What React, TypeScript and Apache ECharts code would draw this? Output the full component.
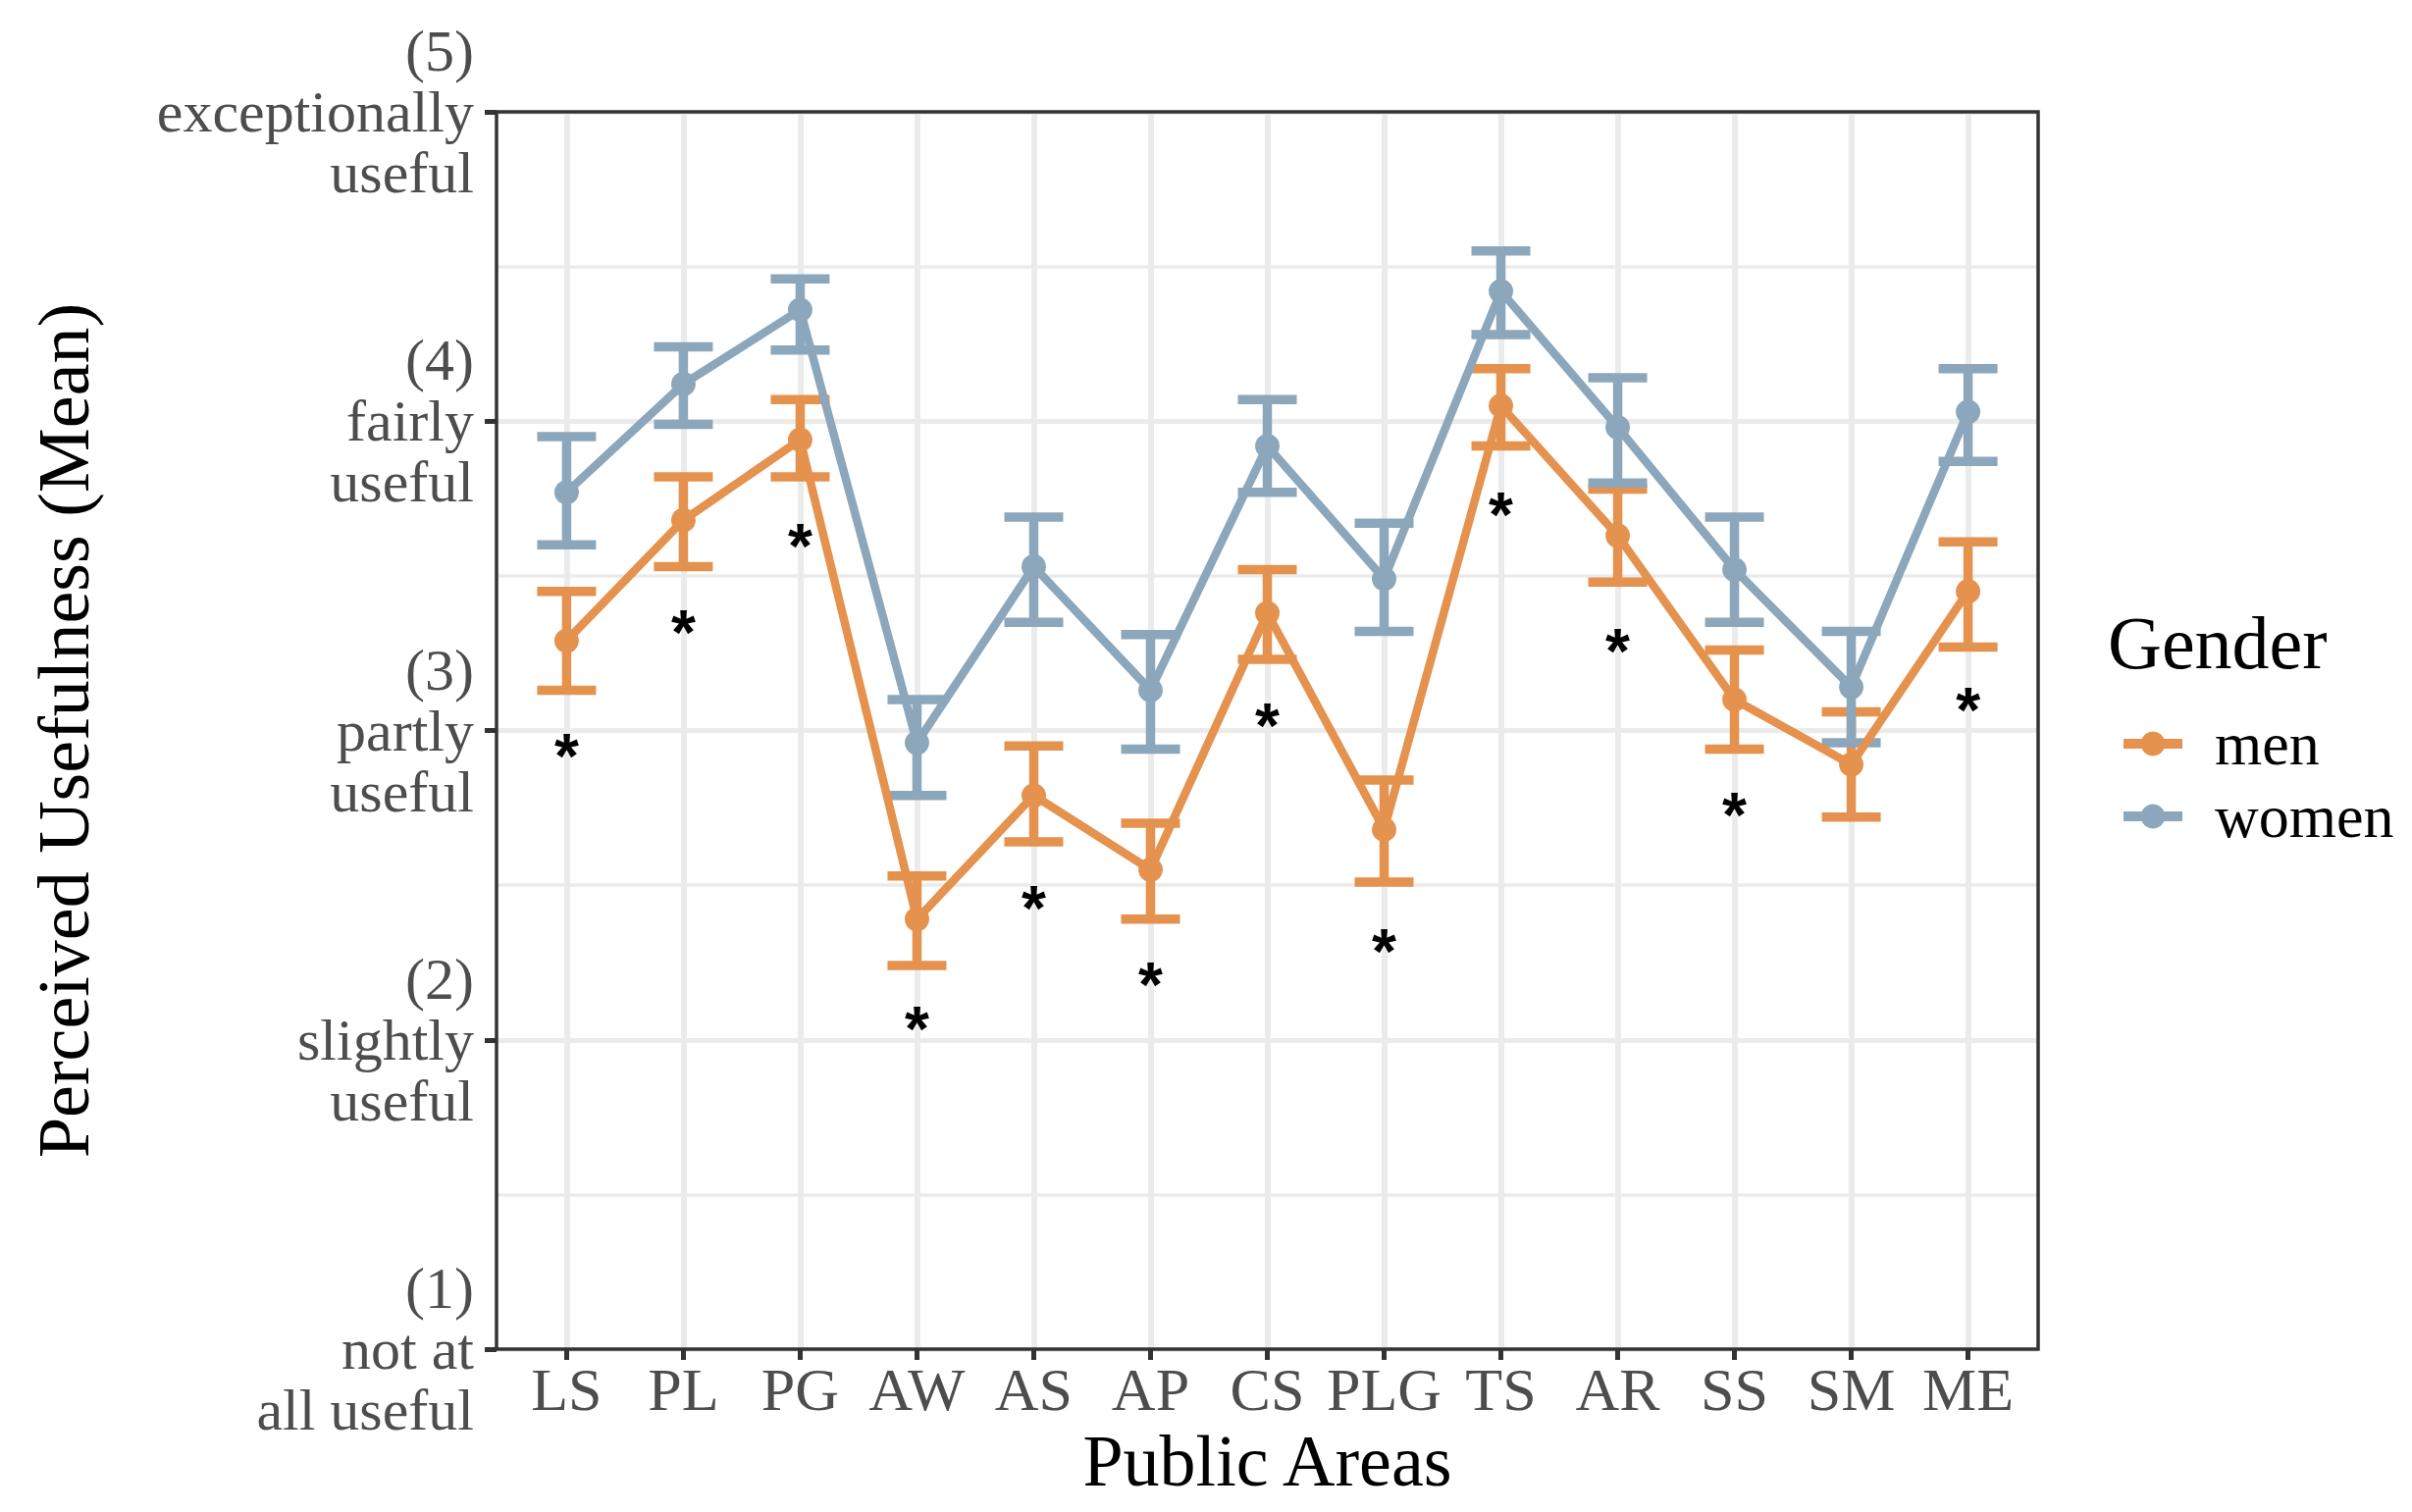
import React, { useEffect, useRef } from "react";
import * as echarts from "echarts";

const categories = ["LS", "PL", "PG", "AW", "AS", "AP", "CS", "PLG", "TS", "AR", "SS", "SM", "ME"];
const menMean = [3.29, 3.68, 3.94, 2.39, 2.79, 2.55, 3.38, 2.68, 4.05, 3.63, 3.10, 2.89, 3.45];
const menLow = [3.13, 3.53, 3.82, 2.24, 2.64, 2.39, 3.23, 2.51, 3.92, 3.48, 2.94, 2.72, 3.27];
const menHigh = [3.45, 3.82, 4.07, 2.53, 2.95, 2.70, 3.52, 2.84, 4.17, 3.78, 3.26, 3.06, 3.61];
const womenMean = [3.77, 4.12, 4.36, 2.96, 3.53, 3.13, 3.92, 3.49, 4.42, 3.98, 3.52, 3.14, 4.03];
const womenLow = [3.60, 3.99, 4.23, 2.79, 3.35, 2.94, 3.77, 3.32, 4.28, 3.80, 3.35, 2.96, 3.87];
const womenHigh = [3.95, 4.24, 4.46, 3.10, 3.69, 3.31, 4.07, 3.67, 4.55, 4.14, 3.69, 3.32, 4.17];
const sigCategories = ["LS", "PL", "PG", "AW", "AS", "AP", "CS", "PLG", "TS", "AR", "SS", "ME"];
const sigY = [2.96, 3.36, 3.64, 2.08, 2.47, 2.22, 3.06, 2.33, 3.74, 3.30, 2.77, 3.11];
const yTickValues = [1, 2, 3, 4, 5];
const yTickLabels = [
  "(1)\nnot at\nall useful",
  "(2)\nslightly\nuseful",
  "(3)\npartly\nuseful",
  "(4)\nfairly\nuseful",
  "(5)\nexceptionally\nuseful",
];
const genders = ["men", "women"];

const MEN_COLOR = "#E4924E";
const WOMEN_COLOR = "#8CA7BB";
const FONT = "'Liberation Serif', 'DejaVu Serif', serif";

const GRID = { left: 506, top: 114, width: 1571, height: 1261 };

function errorSeries(name: string, low: number[], high: number[], color: string) {
  return {
    type: "custom",
    name,
    silent: true,
    z: 3,
    data: categories.map((c, i) => [i, low[i], high[i]]),
    encode: { x: 0, y: [1, 2] },
    renderItem: (params: any, api: any) => {
      const x = api.value(0);
      const lo = api.coord([x, api.value(1)]);
      const hi = api.coord([x, api.value(2)]);
      const hw = 30;
      const style = { stroke: color, lineWidth: 9.5, fill: null };
      return {
        type: "group",
        children: [
          { type: "line", shape: { x1: lo[0], y1: lo[1], x2: hi[0], y2: hi[1] }, style },
          { type: "line", shape: { x1: lo[0] - hw, y1: lo[1], x2: lo[0] + hw, y2: lo[1] }, style },
          { type: "line", shape: { x1: hi[0] - hw, y1: hi[1], x2: hi[0] + hw, y2: hi[1] }, style },
        ],
      };
    },
  };
}

function lineSeries(name: string, values: number[], color: string) {
  return {
    type: "line",
    name,
    z: 4,
    data: values.map((v, i) => [i, v]),
    symbol: "circle",
    symbolSize: 25,
    showAllSymbol: true,
    lineStyle: { color, width: 8.5 },
    itemStyle: { color },
    emphasis: { disabled: true },
  };
}

export default function App() {
  const ref = useRef<HTMLDivElement>(null);
  useEffect(() => {
    if (!ref.current) return;
    const chart = echarts.init(ref.current, undefined, { renderer: "svg" });
    const catIdx = categories.map((c, i) => i);
    chart.setOption({
      animation: false,
      backgroundColor: "#FFFFFF",
      textStyle: { fontFamily: FONT },
      grid: {
        ...GRID,
        show: false,
        containLabel: false,
        outerBoundsMode: "none",
      },
      xAxis: {
        type: "value",
        min: -0.6,
        max: 12.6,
        axisLine: { show: false, onZero: false },
        axisTick: { show: true, length: 11, lineStyle: { color: "#333333", width: 5 }, customValues: catIdx },
        axisLabel: {
          customValues: catIdx,
          formatter: (v: number) => categories[Math.round(v)],
          fontSize: 62,
          fontFamily: FONT,
          color: "#4D4D4D",
          margin: 10,
        },
        splitLine: { show: true, lineStyle: { color: "#EBEBEB", width: 6 } },
        name: "Public Areas",
        nameLocation: "middle",
        nameGap: 68,
        nameTextStyle: { fontSize: 74, fontFamily: FONT, color: "#000000" },
      },
      yAxis: {
        type: "value",
        min: 1,
        max: 5,
        interval: 1,
        axisLine: { show: false, onZero: false },
        axisTick: { show: true, length: 12, lineStyle: { color: "#333333", width: 5 } },
        axisLabel: {
          formatter: (v: number) => yTickLabels[yTickValues.indexOf(v)],
          fontSize: 60,
          lineHeight: 62,
          fontFamily: FONT,
          color: "#4D4D4D",
          align: "right",
          margin: 23,
          showMinLabel: true,
          showMaxLabel: true,
        },
        splitLine: { show: true, lineStyle: { color: "#EBEBEB", width: 5 } },
        minorTick: { show: false, splitNumber: 2 },
        minorSplitLine: { show: true, lineStyle: { color: "#EBEBEB", width: 3.5 } },
        name: "Perceived Usefulness (Mean)",
        nameLocation: "middle",
        nameRotate: 90,
        nameGap: 404,
        nameTextStyle: { fontSize: 74, fontFamily: FONT, color: "#000000" },
      },
      legend: {
        data: genders.map((g) => ({ name: g })),
        orient: "vertical",
        left: 2154,
        top: 722,
        itemWidth: 60,
        itemHeight: 31,
        itemGap: 12,
        selectedMode: false,
        lineStyle: { width: 10 },
        textStyle: { fontSize: 62, fontFamily: FONT, color: "#000000", padding: [0, 0, 0, 28] },
      },
      graphic: [
        {
          type: "text",
          left: 2148,
          top: 617,
          style: { text: "Gender", fontSize: 76, fontFamily: FONT, fill: "#000000" },
        },
        {
          type: "rect",
          z: 100,
          silent: true,
          shape: { x: GRID.left, y: GRID.top, width: GRID.width, height: GRID.height },
          style: { fill: "none", stroke: "#333333", lineWidth: 3.5 },
        },
      ],
      series: [
        errorSeries("men-err", menLow, menHigh, MEN_COLOR),
        errorSeries("women-err", womenLow, womenHigh, WOMEN_COLOR),
        lineSeries("men", menMean, MEN_COLOR),
        lineSeries("women", womenMean, WOMEN_COLOR),
        {
          type: "custom",
          name: "sig",
          silent: true,
          z: 5,
          data: sigCategories.map((c, i) => [categories.indexOf(c), sigY[i]]),
          encode: { x: 0, y: 1 },
          renderItem: (params: any, api: any) => {
            const p = api.coord([api.value(0), api.value(1)]);
            return {
              type: "text",
              x: p[0],
              y: p[1] + 14,
              style: {
                text: "*",
                fontSize: 64,
                fontWeight: "bold",
                fontFamily: "'Liberation Sans', 'DejaVu Sans', sans-serif",
                fill: "#000000",
                textAlign: "center",
                textVerticalAlign: "middle",
              },
            };
          },
        },
      ],
    });
    return () => chart.dispose();
  }, []);
  return (
    <div
      ref={ref}
      style={{ position: "fixed", left: 0, top: 0, width: 2458, height: 1541, background: "#fff" }}
    />
  );
}
